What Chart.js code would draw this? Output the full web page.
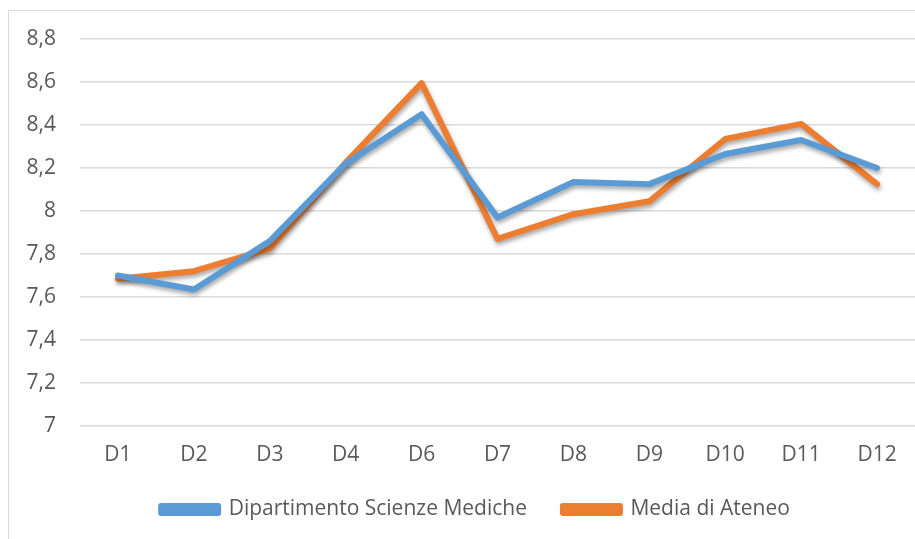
<!DOCTYPE html>
<html>
<head>
<meta charset="utf-8">
<script src="https://cdn.jsdelivr.net/npm/chart.js@4.4.1/dist/chart.umd.min.js"></script>
<style>
  html, body { margin: 0; padding: 0; background: #fff; overflow: hidden; }
  #frame { position: absolute; left: 8px; top: 10px; width: 1000px; height: 1000px; border: 1px solid #d9d9d9; }
  #wrap { position: absolute; left: 0; top: 0; width: 915px; height: 539px; }
</style>
</head>
<body>
<div id="frame"></div>
<div id="wrap"><canvas id="chart" width="915" height="539"></canvas></div>
<script>
const categories = ["D1", "D2", "D3", "D4", "D6", "D7", "D8", "D9", "D10", "D11", "D12"];
const dipartimento = [7.70, 7.635, 7.86, 8.22, 8.45, 7.97, 8.135, 8.125, 8.265, 8.33, 8.20];
const mediaAteneo = [7.685, 7.72, 7.825, 8.225, 8.595, 7.87, 7.985, 8.045, 8.335, 8.405, 8.125];
const yTicks = [7, 7.2, 7.4, 7.6, 7.8, 8, 8.2, 8.4, 8.6, 8.8];

const textColor = "#595959";
const gridColor = "#d9d9d9";
const fontFamily = "'Open Sans', sans-serif";
const fontSize = 21;

// soft drop shadow under the lines, like the office chart
const lineShadow = {
  id: "lineShadow",
  beforeDatasetsDraw(chart) {
    const ctx = chart.ctx;
    ctx.save();
    ctx.shadowColor = "rgba(0,0,0,0.35)";
    ctx.shadowBlur = 4;
    ctx.shadowOffsetX = 1;
    ctx.shadowOffsetY = 3;
  },
  afterDatasetsDraw(chart) {
    chart.ctx.restore();
  }
};

// the original legend sits a bit right of the canvas centre and a little higher
const legendShift = {
  id: "legendShift",
  afterLayout(chart) {
    chart.legend.left += 36;
    chart.legend.top -= 9;
    chart.legend.bottom -= 9;
  }
};

new Chart(document.getElementById("chart"), {
  type: "line",
  data: {
    labels: categories,
    datasets: [
      {
        label: "Dipartimento Scienze Mediche",
        data: dipartimento,
        borderColor: "#5b9bd5",
        backgroundColor: "#5b9bd5",
        borderWidth: 6,
        pointRadius: 0,
        tension: 0,
        borderCapStyle: "round",
        borderJoinStyle: "round"
      },
      {
        label: "Media di Ateneo",
        data: mediaAteneo,
        borderColor: "#ed7d31",
        backgroundColor: "#ed7d31",
        borderWidth: 6,
        pointRadius: 0,
        tension: 0,
        borderCapStyle: "round",
        borderJoinStyle: "round"
      }
    ]
  },
  options: {
    responsive: false,
    animation: false,
    layout: { padding: { top: 39, right: 0, bottom: 0, left: 0 } },
    plugins: {
      tooltip: { enabled: false },
      legend: {
        position: "bottom",
        labels: {
          color: textColor,
          font: { family: fontFamily, size: fontSize },
          boxWidth: 57,
          boxHeight: 7,
          padding: 36
        }
      }
    },
    scales: {
      x: {
        offset: true,
        grid: { display: false },
        border: { display: false },
        ticks: { color: textColor, font: { family: fontFamily, size: fontSize }, padding: 8, maxRotation: 0 },
        afterFit(scale) { scale.height = 46; }
      },
      y: {
        min: 7,
        max: 8.8,
        afterBuildTicks(scale) { scale.ticks = yTicks.map(v => ({ value: v })); },
        grid: { color: gridColor, lineWidth: 1.5, drawTicks: false },
        border: { display: false },
        ticks: {
          color: textColor,
          font: { family: fontFamily, size: fontSize },
          padding: 24,
          callback: v => String(Math.round(v * 10) / 10).replace(".", ",")
        },
        afterFit(scale) { scale.width = 80; }
      }
    }
  },
  plugins: [lineShadow, legendShift]
});
</script>
</body>
</html>
